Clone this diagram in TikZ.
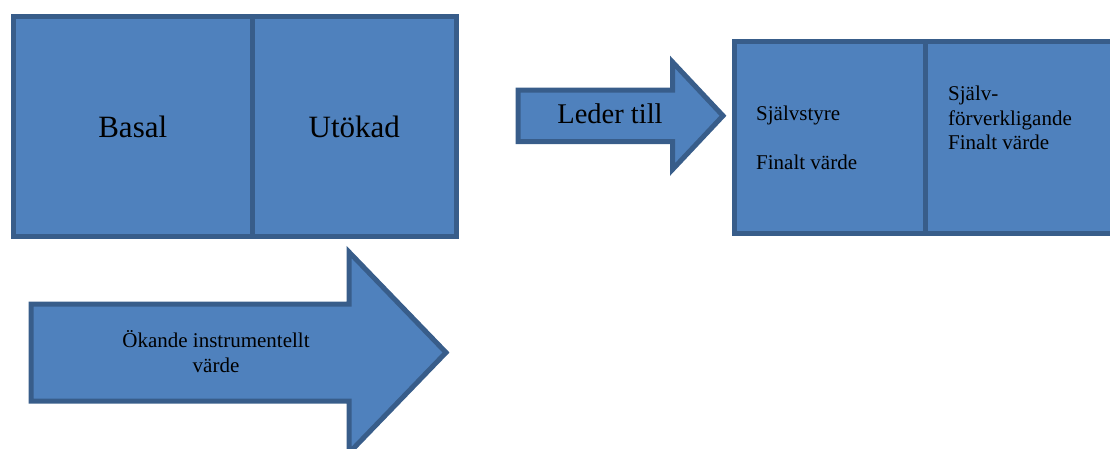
\documentclass[tikz,border=0pt]{standalone}
\usepackage{fontspec}
\newfontfamily\timesfont{Liberation Serif}
\definecolor{boxfill}{HTML}{4F81BD}
\definecolor{boxline}{HTML}{385D8A}
\begin{document}
\begin{tikzpicture}[x=1pt,y=-1pt,
  box/.style={draw=boxline, fill=boxfill, line width=5pt, inner sep=0pt, outer sep=0pt, line join=miter},
  blockarrow/.style={draw=boxline, fill=boxfill, line width=5pt, line join=miter},
  bigtext/.style={font=\timesfont\fontsize{31}{36}\selectfont, text=black},
  midtext/.style={font=\timesfont\fontsize{28.5}{33}\selectfont, text=black},
  smalltext/.style={font=\timesfont\fontsize{21}{24}\selectfont, text=black, inner sep=0pt}]
\useasboundingbox (0,0) rectangle (1110,448);
\clip (0,0) rectangle (1110,448);
% left pair of boxes
\node[box, bigtext, minimum width=238.5pt, minimum height=220pt] (basal) at (132.75,126.5) {Basal};
\node[box, bigtext, minimum width=204.5pt, minimum height=220pt] (utokad) at (354.25,126.5) {Utökad};
% right pair of boxes
\node[box, minimum width=191.5pt, minimum height=192pt] (sjalvstyre) at (829.75,137) {};
\node[box, minimum width=194.5pt, minimum height=192pt] (forverk) at (1022.75,137) {};
\node[smalltext, anchor=base west] (t1) at (756,120) {Självstyre};
\node[smalltext, anchor=base west] (t2) at (756,169.3) {Finalt värde};
\node[smalltext, anchor=base west] (t3) at (948,100.7) {Själv-};
\node[smalltext, anchor=base west] (t4) at (948,125.5) {förverkligande};
\node[smalltext, anchor=base west] (t5) at (948,149) {Finalt värde};
% "Leder till" block arrow
\draw[blockarrow] (518,90) -- (672.5,90) -- (672.5,62) -- (723,115.75) -- (672.5,169.5) -- (672.5,141.5) -- (518,141.5) -- cycle;
\node[midtext, anchor=base, inner sep=0pt] (leder) at (610,123.3) {Leder till};
% big block arrow
\draw[blockarrow] (31,304) -- (349,304) -- (349,252) -- (446,352.5) -- (349,453) -- (349,401) -- (31,401) -- cycle;
\node[smalltext, anchor=base] (okande1) at (216,347) {Ökande instrumentellt};
\node[smalltext, anchor=base] (okande2) at (216,372) {värde};
\end{tikzpicture}
\end{document}
